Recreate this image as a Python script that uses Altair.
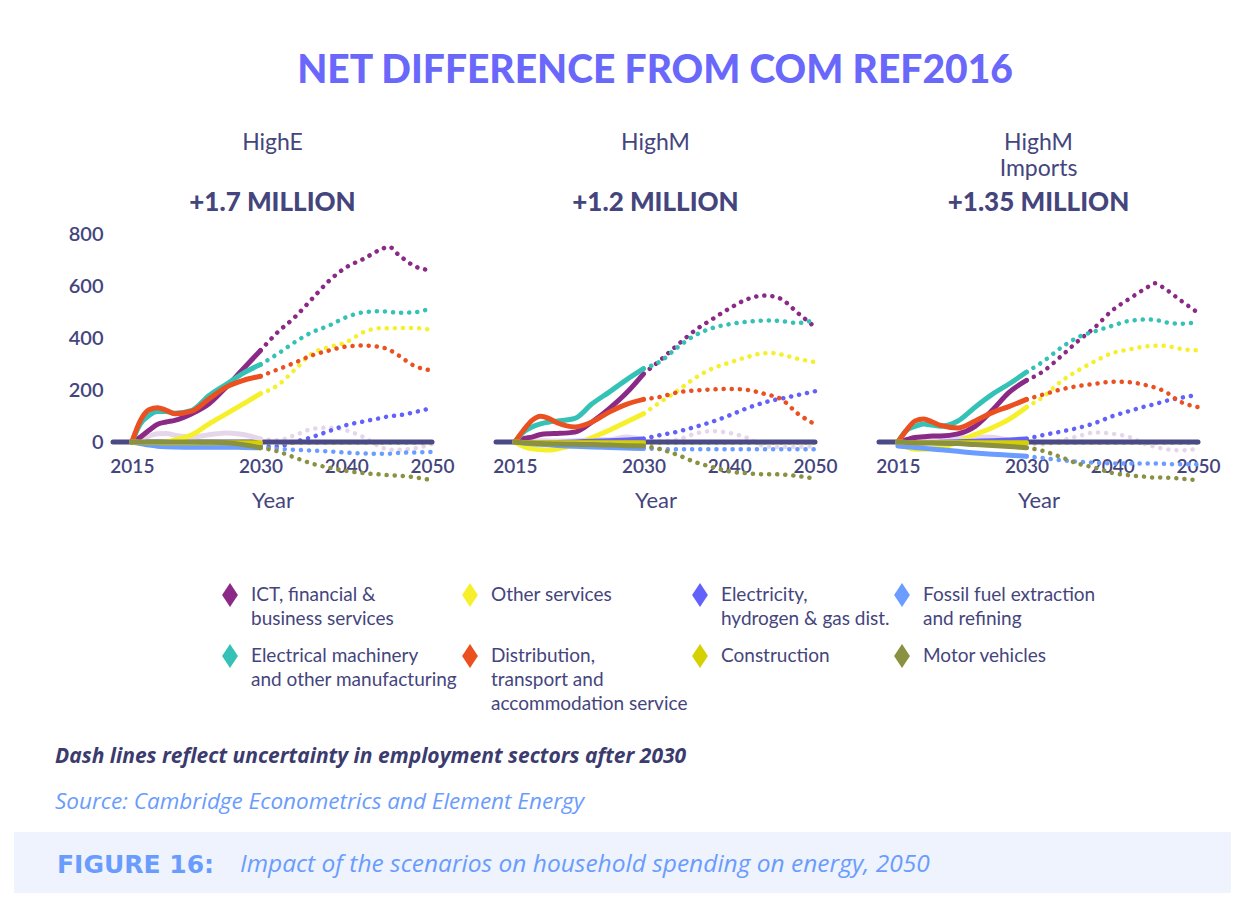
import altair as alt
import pandas as pd

# ---------------- data ----------------
YEARS = [2015, 2016, 2017, 2018, 2019, 2020, 2022, 2024, 2026, 2028, 2030,
         2032, 2034, 2036, 2038, 2040, 2042, 2044, 2045, 2046, 2048, 2050]
SPLIT_YEAR = 2030
X_TICKS = [2015, 2030, 2040, 2050]
Y_TICKS = [0, 200, 400, 600, 800]
ZERO_LINE = [0]

SCENARIOS = ["HighE", "HighM", "HighM Imports"]
SCENARIO_TITLES = [["HighE", ""], ["HighM", ""], ["HighM", "Imports"]]
SCENARIO_TOTALS = ["+1.7 MILLION", "+1.2 MILLION", "+1.35 MILLION"]

SECTORS = [
    "ICT, financial &|business services",
    "Other services",
    "Electricity,|hydrogen & gas dist.",
    "Fossil fuel extraction|and refining",
    "Electrical machinery|and other manufacturing",
    "Distribution,|transport and|accommodation service",
    "Construction",
    "Motor vehicles",
]
SECTOR_COLORS = ["#8b2a86", "#f6f02c", "#6262fb", "#6b9cff",
                 "#35c2b6", "#ea5020", "#d6d000", "#8a9140"]
UNLABELLED = "Other sectors"

# HighE
HIGHE_ICT = [0, 19, 45, 68, 77, 83, 109, 147, 211, 282, 352, 422, 480, 550, 620, 672, 704, 740, 751, 723, 676, 660]
HIGHE_OTHER_SERV = [0, -2, -3, -2, 0, 8, 28, 70, 108, 147, 186, 218, 278, 340, 365, 384, 422, 438, 437, 438, 438, 431]
HIGHE_ELECTRICITY = [0, -3, -6, -8, -10, -11, -13, -14, -15, -16, -18, -17, 0, 19, 42, 65, 79, 92, 99, 102, 115, 131]
HIGHE_FOSSIL = [0, -6, -12, -16, -18, -19, -20, -20, -20, -21, -22, -26, -30, -33, -36, -41, -44, -45, -45, -42, -40, -38]
HIGHE_ELEC_MACH = [0, 70, 102, 117, 117, 111, 122, 179, 222, 265, 298, 339, 384, 422, 448, 480, 499, 503, 501, 497, 499, 516]
HIGHE_DIST = [0, 83, 124, 132, 122, 109, 119, 166, 211, 237, 253, 279, 305, 333, 352, 367, 371, 365, 355, 335, 292, 275]
HIGHE_CONSTRUCTION = [0, -1, -2, -2, -3, -3, -3, -3, -3, -3, -3, -3, -3, -3, -3, -3, -3, -3, -3, -3, -3, -3]
HIGHE_MOTOR = [0, 0, 0, 0, 0, 0, 0, -1, -3, -10, -22, -36, -60, -83, -99, -111, -120, -125, -128, -129, -136, -147]
HIGHE_UNLABELLED = [0, 13, 23, 32, 33, 26, 19, 28, 35, 29, 12, 7, 26, 50, 55, 45, 19, -19, -30, -30, -24, -8]

# HighM
HIGHM_ICT = [0, 13, 19, 29, 32, 33, 38, 77, 128, 188, 262, 316, 374, 429, 472, 513, 548, 563, 561, 551, 496, 442]
HIGHM_OTHER_SERV = [0, -17, -26, -29, -31, -26, -10, 17, 45, 77, 109, 154, 198, 246, 282, 305, 326, 341, 342, 337, 320, 307]
HIGHM_ELECTRICITY = [0, -2, -3, -3, -3, -2, 0, 3, 5, 8, 12, 27, 40, 58, 78, 102, 129, 151, 160, 166, 181, 195]
HIGHM_FOSSIL = [0, -4, -7, -9, -11, -13, -16, -19, -21, -23, -25, -27, -28, -28, -28, -28, -28, -28, -28, -28, -28, -28]
HIGHM_ELEC_MACH = [0, 38, 58, 70, 77, 81, 91, 147, 192, 239, 282, 311, 365, 410, 438, 453, 462, 467, 467, 465, 458, 470]
HIGHM_DIST = [0, 45, 83, 99, 90, 73, 58, 77, 115, 145, 164, 174, 191, 198, 202, 204, 201, 186, 178, 166, 109, 68]
HIGHM_CONSTRUCTION = [0, -2, -3, -3, -3, -3, -3, -3, -3, -3, -3, -3, -3, -3, -3, -3, -3, -3, -3, -3, -3, -3]
HIGHM_MOTOR = [0, -3, -5, -6, -7, -8, -9, -10, -12, -14, -15, -28, -50, -77, -96, -113, -120, -124, -124, -125, -131, -141]
HIGHM_UNLABELLED = [0, 3, 5, 5, 4, 4, 5, 8, 9, 19, 9, 3, 9, 32, 42, 35, 17, -15, -19, -19, -18, -17]

# HighM Imports
IMPORTS_ICT = [0, 9, 17, 20, 23, 23, 31, 60, 122, 192, 237, 273, 329, 388, 442, 506, 551, 593, 611, 593, 544, 497]
IMPORTS_OTHER_SERV = [0, -19, -28, -28, -26, -22, 0, 29, 55, 88, 134, 175, 232, 275, 311, 342, 356, 368, 370, 370, 358, 352]
IMPORTS_ELECTRICITY = [0, -2, -3, -3, -2, -1, 1, 3, 5, 8, 12, 27, 40, 54, 73, 99, 119, 138, 146, 156, 170, 182]
IMPORTS_FOSSIL = [-15, -18, -21, -24, -27, -30, -36, -42, -47, -51, -55, -62, -70, -76, -80, -82, -83, -83, -83, -84, -86, -86]
IMPORTS_ELEC_MACH = [0, 45, 60, 69, 65, 61, 81, 134, 183, 224, 269, 311, 362, 403, 426, 447, 466, 471, 470, 462, 455, 461]
IMPORTS_DIST = [0, 45, 81, 88, 77, 64, 54, 81, 113, 137, 164, 183, 202, 215, 224, 232, 230, 218, 209, 197, 154, 134]
IMPORTS_CONSTRUCTION = [0, -2, -3, -3, -3, -3, -3, -3, -3, -3, -3, -3, -3, -3, -3, -3, -3, -3, -3, -3, -3, -3]
IMPORTS_MOTOR = [0, -2, -3, -4, -4, -5, -6, -10, -13, -17, -22, -35, -58, -83, -99, -119, -128, -134, -137, -137, -141, -147]
IMPORTS_UNLABELLED = [0, 4, 9, 12, 13, 13, 14, 19, 18, 6, -6, -9, 6, 22, 37, 32, 19, -10, -19, -26, -32, -26]

MAIN_TITLE = "NET DIFFERENCE FROM COM REF2016"
NOTE = "Dash lines reflect uncertainty in employment sectors after 2030"
SOURCE = "Source: Cambridge Econometrics and Element Energy"
FIG_NUMBER = ["FIGURE 16:"]
FIG_CAPTION = ["Impact of the scenarios on household spending on energy, 2050"]

# ---------------- styling ----------------
FONT = "Lato"
NOTE_FONT = "Open Sans"
NAVY = "#45457d"
ZERO_COLOR = "#4a4a86"
TITLE_BLUE = "#6a68fb"
LIGHT_BLUE = "#6a9cfd"
FOOT_BG = "#eef3fd"
UNLABELLED_COLOR = "#e6d6ea"
DIAMOND = "M0,-1L0.66,0L0,1L-0.66,0Z"
X_DOMAIN = [2012.8, 2050]
Y_DOMAIN = [-150, 800]
PANEL_W = 319
PANEL_H = 247
GAP = 64

SCENARIO_SERIES = [
    [HIGHE_ICT, HIGHE_OTHER_SERV, HIGHE_ELECTRICITY, HIGHE_FOSSIL, HIGHE_ELEC_MACH,
     HIGHE_DIST, HIGHE_CONSTRUCTION, HIGHE_MOTOR, HIGHE_UNLABELLED],
    [HIGHM_ICT, HIGHM_OTHER_SERV, HIGHM_ELECTRICITY, HIGHM_FOSSIL, HIGHM_ELEC_MACH,
     HIGHM_DIST, HIGHM_CONSTRUCTION, HIGHM_MOTOR, HIGHM_UNLABELLED],
    [IMPORTS_ICT, IMPORTS_OTHER_SERV, IMPORTS_ELECTRICITY, IMPORTS_FOSSIL, IMPORTS_ELEC_MACH,
     IMPORTS_DIST, IMPORTS_CONSTRUCTION, IMPORTS_MOTOR, IMPORTS_UNLABELLED],
]

rows = []
for scn, series_list in zip(SCENARIOS, SCENARIO_SERIES):
    for sector, vals in zip(SECTORS + [UNLABELLED], series_list):
        for yr, v in zip(YEARS, vals):
            rows.append({"scenario": scn, "sector": sector, "year": yr, "value": v})
df = pd.DataFrame(rows)

cscale = alt.Scale(domain=SECTORS, range=SECTOR_COLORS)


def panel(i):
    scn = SCENARIOS[i]
    first = i == 0
    d = df[df["scenario"] == scn]
    x = alt.X("year:Q",
              scale=alt.Scale(domain=X_DOMAIN, nice=False, zero=False),
              axis=alt.Axis(values=X_TICKS, format="d", title="Year",
                            labelFont=FONT, labelFontSize=19, labelFontWeight=600,
                            labelColor=NAVY, titleFont=FONT, titleFontSize=22,
                            titleFontWeight="normal", titleColor=NAVY,
                            domain=False, ticks=False, tickSize=0, grid=False,
                            offset=-26, labelPadding=2, titlePadding=14,
                            labelFlush=False, labelOverlap=False))
    if first:
        yaxis = alt.Axis(values=Y_TICKS, title=None, labelFont=FONT, labelFontSize=20,
                         labelFontWeight=600, labelColor=NAVY, domain=False,
                         ticks=False, tickSize=0, grid=False, labelPadding=10)
    else:
        yaxis = None
    y = alt.Y("value:Q", scale=alt.Scale(domain=Y_DOMAIN, nice=False, zero=False), axis=yaxis)

    base = alt.Chart(d)
    dotted = base.transform_filter(
        f"datum.year >= {SPLIT_YEAR} && datum.sector != '{UNLABELLED}'"
    ).mark_line(strokeDash=[0.1, 8], strokeCap="round", strokeWidth=4.5,
                interpolate="monotone").encode(
        x=x, y=y, color=alt.Color("sector:N", scale=cscale, legend=None))
    dotted_u = base.transform_filter(
        f"datum.year >= {SPLIT_YEAR} && datum.sector == '{UNLABELLED}'"
    ).mark_line(strokeDash=[0.1, 8], strokeCap="round", strokeWidth=4.5,
                interpolate="monotone", color=UNLABELLED_COLOR).encode(x=x, y=y)
    zero = alt.Chart(pd.DataFrame({"value": ZERO_LINE})).mark_rule(
        color=ZERO_COLOR, strokeWidth=5, strokeCap="round").encode(y=y)
    solid_u = base.transform_filter(
        f"datum.year <= {SPLIT_YEAR} && datum.sector == '{UNLABELLED}'"
    ).mark_line(strokeWidth=5, strokeCap="round", interpolate="monotone",
                color=UNLABELLED_COLOR).encode(x=x, y=y)
    solid = base.transform_filter(
        f"datum.year <= {SPLIT_YEAR} && datum.sector != '{UNLABELLED}'"
    ).mark_line(strokeWidth=5, strokeCap="round", interpolate="monotone").encode(
        x=x, y=y, color=alt.Color("sector:N", scale=cscale, legend=None))
    layers = [dotted_u, dotted, zero, solid_u, solid]
    if first:
        legend_layer = base.transform_filter("datum.year < 0").mark_point(
            filled=True, shape=DIAMOND, size=576, opacity=1).encode(
            x=x, y=y,
            color=alt.Color("sector:N", scale=cscale, legend=alt.Legend(
                title=None, orient="none", legendX=204, legendY=349, columns=4,
                direction="horizontal", symbolType=DIAMOND, symbolSize=576,
                symbolStrokeWidth=0, symbolOpacity=1, labelFont=FONT,
                labelFontSize=19, labelColor=NAVY, labelBaseline="middle",
                labelExpr="split(datum.label + (indexof(datum.label, '|') < 0 ? '|' : ''), '|')",
                labelLimit=500, labelOffset=9, columnPadding=-8, rowPadding=15,
                padding=0, gridAlign="each")))
        layers = [legend_layer] + layers
    return alt.layer(*layers).properties(
        width=PANEL_W, height=PANEL_H,
        title=alt.Title(SCENARIO_TITLES[i], subtitle=SCENARIO_TOTALS[i],
                        anchor="middle", frame="group", font=FONT, fontSize=23,
                        fontWeight="normal", color=NAVY, lineHeight=26,
                        subtitleFont=FONT, subtitleFontSize=26,
                        subtitleFontWeight=900, subtitleColor=NAVY,
                        subtitlePadding=9, offset=(8 if first else 18)))


# invisible left spacer that reserves room for the y-axis labels
spacer = alt.Chart(pd.DataFrame({"value": ZERO_LINE})).mark_rule(opacity=0).encode(
    y=alt.Y("value:Q", axis=None)).properties(width=99 - GAP, height=PANEL_H)

row = alt.hconcat(spacer, *[panel(i) for i in range(3)], spacing=GAP, bounds="flush").properties(
    title=alt.Title(MAIN_TITLE, anchor="middle", font=FONT, fontSize=39, fontWeight=900,
                    color=TITLE_BLUE, offset=41, dx=38))

fig_num = alt.Chart(pd.DataFrame({"t": FIG_NUMBER})).mark_text(
    align="left", baseline="middle", font="DejaVu Sans", fontWeight="bold",
    fontSize=25, color=LIGHT_BLUE).encode(x=alt.value(43), y=alt.value(33), text="t:N")
fig_cap = alt.Chart(pd.DataFrame({"t": FIG_CAPTION})).mark_text(
    align="left", baseline="middle", font=NOTE_FONT, fontStyle="italic",
    fontSize=24.5, color=LIGHT_BLUE).encode(x=alt.value(226), y=alt.value(33), text="t:N")

footer = alt.layer(fig_num, fig_cap).properties(
    width=1217, height=61,
    view=alt.ViewBackground(fill=FOOT_BG, stroke=None),
    title=alt.Title(NOTE, subtitle=SOURCE, anchor="start", frame="group", dx=41,
                    font=NOTE_FONT, fontSize=21, fontStyle="italic", fontWeight="bold",
                    color="#3b3b6e", subtitleFont=NOTE_FONT, subtitleFontSize=22.5,
                    subtitleFontStyle="italic", subtitleColor=LIGHT_BLUE,
                    subtitlePadding=24, offset=19))

chart = alt.vconcat(row, footer, spacing=234).properties(
    padding={"left": 6, "top": 44, "right": 0, "bottom": 0},
    background="white",
).configure(
    style={"guide-label": {"lineHeight": 24}}
).configure_view(stroke=None)

chart.save("out.html", embed_options={"renderer": "svg", "actions": False})
